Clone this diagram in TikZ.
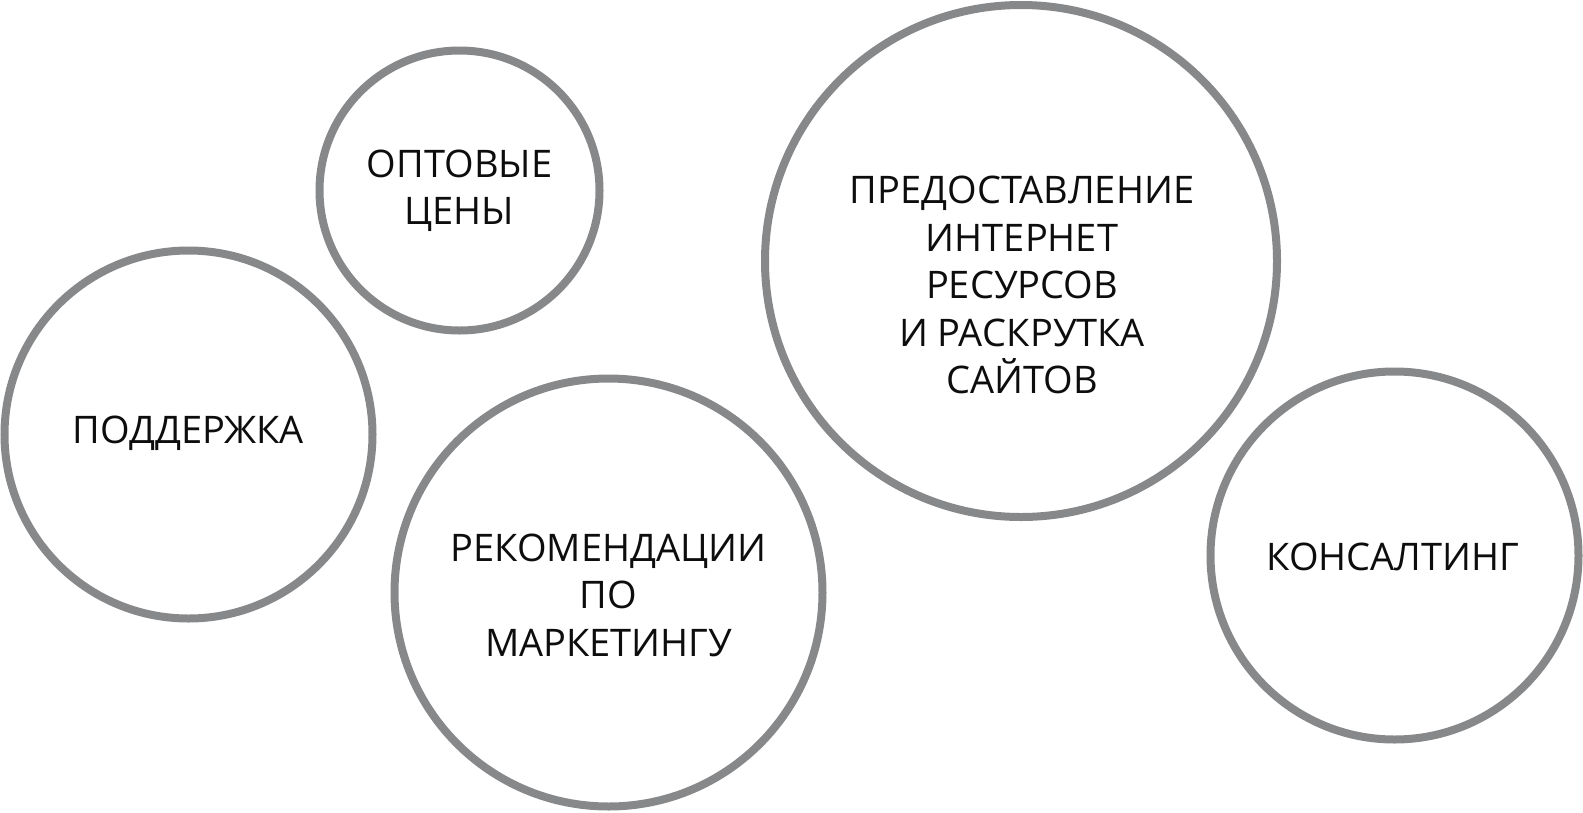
\documentclass[tikz,border=0pt]{standalone}
\usepackage{fontspec}
\setmainfont{Open Sans}
\begin{document}
\begin{tikzpicture}[x=1pt,y=-1pt,
  ring/.style={circle,draw=ringgray,line width=8pt,inner sep=0pt},
  lbl/.style={align=center,font=\fontsize{38}{47.5}\selectfont,text=black!95,inner sep=0pt}]
\definecolor{ringgray}{HTML}{87888A}
\useasboundingbox (0,0) rectangle (1583,812);
\node[ring,minimum size=280pt] (opt) at (459.5,190.5) {};
\node[ring,minimum size=368pt] (pod) at (188.5,434.5) {};
\node[ring,minimum size=428pt] (rek) at (608.5,592.5) {};
\node[ring,minimum size=512pt] (pre) at (1021,261) {};
\node[ring,minimum size=368pt] (kon) at (1394.5,555.5) {};
\node[lbl] (toptxt) at (459.5,191) {ОПТОВЫЕ\\ЦЕНЫ};
\node[lbl] (podtxt) at (188.5,433) {ПОДДЕРЖКА};
\node[lbl] (rektxt) at (608.5,595) {РЕКОМЕНДАЦИИ\\ПО\\МАРКЕТИНГУ};
\node[lbl] (pretxt) at (1022,285) {ПРЕДОСТАВЛЕНИЕ\\ИНТЕРНЕТ\\РЕСУРСОВ\\И РАСКРУТКА\\САЙТОВ};
\node[lbl] (kontxt) at (1393,557) {КОНСАЛТИНГ};
\end{tikzpicture}
\end{document}
